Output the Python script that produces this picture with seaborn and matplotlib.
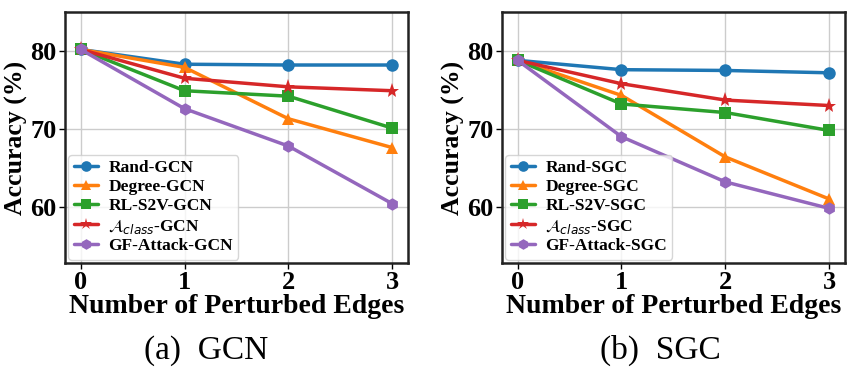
import pandas as pd
import seaborn as sns
import matplotlib.pyplot as plt

sns.set_style("whitegrid")
plt.rcParams["font.family"] = ["Liberation Serif", "DejaVu Serif"]
plt.rcParams["mathtext.fontset"] = "dejavusans"
for key in ["text.color", "axes.labelcolor", "xtick.color", "ytick.color"]:
    plt.rcParams[key] = "black"

edges = [0, 1, 2, 3]
methods = ["Rand", "Degree", "RL-S2V", r"$\mathcal{A}_{class}$", "GF-Attack"]
markers = ["o", "^", "s", "*", "h"]

gcn_rand = [80.2, 78.3, 78.2, 78.2]
gcn_degree = [80.2, 77.9, 71.3, 67.6]
gcn_rls2v = [80.2, 74.9, 74.2, 70.1]
gcn_aclass = [80.2, 76.5, 75.4, 74.9]
gcn_gf = [80.2, 72.6, 67.8, 60.4]

sgc_rand = [78.8, 77.6, 77.5, 77.2]
sgc_degree = [78.8, 74.3, 66.4, 61.0]
sgc_rls2v = [78.8, 73.2, 72.1, 69.8]
sgc_aclass = [78.8, 75.8, 73.7, 73.0]
sgc_gf = [78.8, 69.0, 63.2, 59.8]

panels = [
    ("GCN", [gcn_rand, gcn_degree, gcn_rls2v, gcn_aclass, gcn_gf], "(a)  GCN"),
    ("SGC", [sgc_rand, sgc_degree, sgc_rls2v, sgc_aclass, sgc_gf], "(b)  SGC"),
]

fig = plt.figure(figsize=(8.54, 3.81), dpi=100)
lefts = [0.0761, 0.5878]
caption_x = [206 / 854, 660 / 854]
palette = sns.color_palette("tab10", 5)

for (model, series, caption), left, cx in zip(panels, lefts, caption_x):
    ax = fig.add_axes([left, 0.3097, 0.4016, 0.6588])
    rows = []
    for name, vals in zip(methods, series):
        for e, v in zip(edges, vals):
            rows.append({"edges": e, "acc": v, "method": f"{name}-{model}"})
    df = pd.DataFrame(rows)
    labels = [f"{m}-{model}" for m in methods]
    for i, lab in enumerate(labels):
        sub = df[df["method"] == lab]
        sns.lineplot(data=sub, x="edges", y="acc", ax=ax, color=palette[i],
                     marker=markers[i], markersize=11 if markers[i] == "*" else 9,
                     markeredgewidth=0, linewidth=2.5, label=lab)
    ax.set_ylim(52.8, 85)
    ax.set_xticks(edges)
    ax.set_yticks([60, 70, 80])
    ax.set_xlabel("Number of Perturbed Edges", fontsize=20, fontweight="bold", labelpad=0)
    ax.set_ylabel("Accuracy (%)", fontsize=18.5, fontweight="bold", labelpad=2)
    ax.tick_params(axis="both", labelsize=19, length=4, width=1, color="black",
                   pad=2, bottom=True, left=True)
    for t in ax.get_xticklabels() + ax.get_yticklabels():
        t.set_fontweight("bold")
    for s in ax.spines.values():
        s.set_edgecolor("#222222")
        s.set_linewidth(1.8)
    ax.grid(color="#cccccc", linewidth=1)
    ax.legend(loc="lower left", prop={"size": 12.5, "weight": "bold"},
              handlelength=1.4, labelspacing=0.15, borderpad=0.3,
              handletextpad=0.6, borderaxespad=0.2, framealpha=0.8,
              markerscale=0.85)
    fig.text(cx, 0.081, caption, ha="center", va="center", fontsize=24,
             family="Liberation Serif")

fig.savefig("out.png", dpi=100)
